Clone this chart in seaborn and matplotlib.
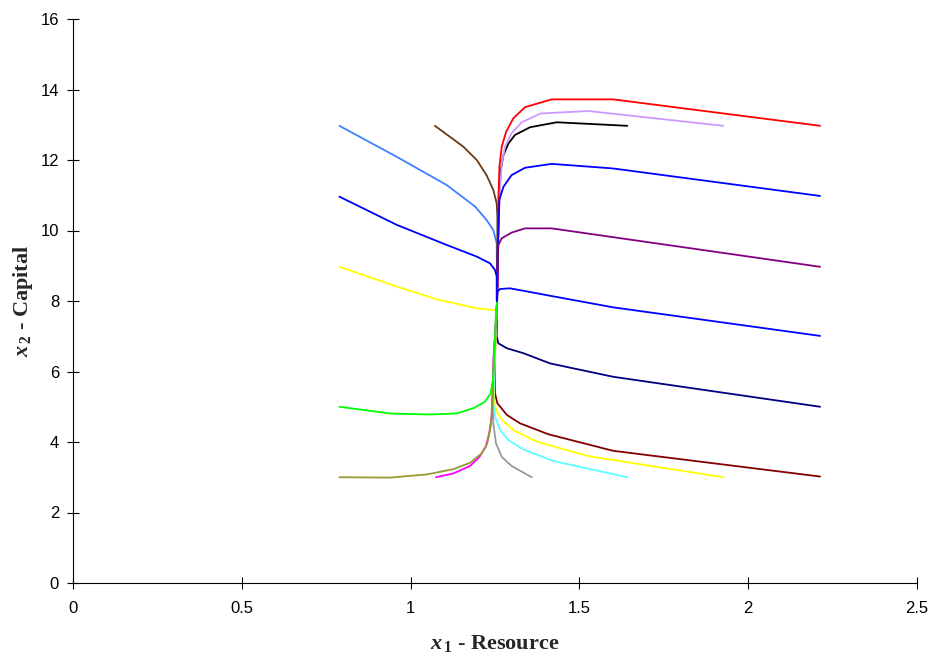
import matplotlib
matplotlib.use("Agg")
import matplotlib.pyplot as plt
import seaborn as sns
import pandas as pd

# Trajectories in the (resource, capital) plane; each runs from its initial
# point to the balanced path near x1 = 1.256 and along it to the steady state.
lightblue_x = [0.789, 0.959, 1.107, 1.191, 1.225, 1.245, 1.255, 1.256, 1.256]
lightblue_y = [12.97, 12.09, 11.29, 10.68, 10.30, 10.01, 9.64, 8.80, 7.95]

brown_x = [1.072, 1.156, 1.196, 1.225, 1.245, 1.255, 1.257, 1.257, 1.256]
brown_y = [12.97, 12.38, 12.00, 11.57, 11.15, 10.77, 10.39, 9.20, 7.95]

black_x = [1.642, 1.433, 1.354, 1.309, 1.290, 1.275, 1.267, 1.262, 1.258, 1.256]
black_y = [12.97, 13.07, 12.93, 12.71, 12.47, 12.14, 11.72, 10.80, 9.40, 7.95]

violet_x = [1.926, 1.526, 1.385, 1.329, 1.299, 1.280, 1.270, 1.263, 1.259, 1.256]
violet_y = [12.97, 13.39, 13.32, 13.07, 12.76, 12.38, 11.91, 10.90, 9.40, 7.95]

red_x = [2.213, 1.600, 1.418, 1.339, 1.304, 1.283, 1.270, 1.263, 1.260, 1.259, 1.2575, 1.256]
red_y = [12.97, 13.72, 13.72, 13.50, 13.18, 12.80, 12.38, 11.81, 10.87, 9.45, 8.31, 7.95]

blue_r11_x = [2.213, 1.600, 1.418, 1.339, 1.299, 1.275, 1.263, 1.259, 1.256]
blue_r11_y = [10.98, 11.76, 11.89, 11.78, 11.57, 11.24, 10.87, 9.60, 7.95]

purple_x = [2.213, 1.418, 1.339, 1.299, 1.270, 1.260, 1.257, 1.256]
purple_y = [8.97, 10.06, 10.06, 9.94, 9.78, 9.59, 8.90, 7.95]

blue_r7_x = [2.213, 1.600, 1.418, 1.334, 1.294, 1.265, 1.257, 1.256]
blue_r7_y = [7.01, 7.82, 8.14, 8.29, 8.36, 8.34, 8.26, 7.95]

blue_l11_x = [0.789, 0.959, 1.107, 1.196, 1.235, 1.250, 1.255, 1.255, 1.256]
blue_l11_y = [10.96, 10.16, 9.59, 9.26, 9.07, 8.88, 8.69, 8.03, 7.95]

yellow_l9_x = [0.789, 0.959, 1.077, 1.196, 1.252, 1.254, 1.256]
yellow_l9_y = [8.97, 8.41, 8.05, 7.79, 7.74, 7.85, 7.95]

navy_x = [2.213, 1.600, 1.413, 1.334, 1.285, 1.260, 1.255, 1.256]
navy_y = [5.00, 5.85, 6.23, 6.52, 6.66, 6.80, 6.99, 7.95]

maroon_x = [2.213, 1.600, 1.408, 1.324, 1.285, 1.257, 1.250, 1.250, 1.256]
maroon_y = [3.02, 3.75, 4.22, 4.53, 4.77, 5.10, 5.38, 6.50, 7.95]

yellow_r3_x = [1.926, 1.526, 1.374, 1.309, 1.275, 1.255, 1.247, 1.250, 1.256]
yellow_r3_y = [3.00, 3.60, 4.01, 4.31, 4.58, 4.86, 5.19, 6.50, 7.95]

cyan_x = [1.642, 1.423, 1.334, 1.289, 1.265, 1.250, 1.245, 1.249, 1.256]
cyan_y = [3.00, 3.46, 3.79, 4.06, 4.34, 4.72, 5.10, 6.50, 7.95]

gray_x = [1.359, 1.299, 1.270, 1.253, 1.245, 1.243, 1.246, 1.256]
gray_y = [3.00, 3.32, 3.58, 3.96, 4.53, 5.00, 6.47, 7.95]

magenta_x = [1.075, 1.127, 1.176, 1.204, 1.223, 1.233, 1.240, 1.246, 1.256]
magenta_y = [3.00, 3.11, 3.32, 3.58, 3.87, 4.25, 4.72, 6.40, 7.95]

olive_x = [0.789, 0.939, 1.048, 1.127, 1.176, 1.211, 1.227, 1.237, 1.242, 1.247, 1.256]
olive_y = [3.00, 2.99, 3.08, 3.23, 3.41, 3.68, 3.96, 4.43, 5.00, 6.40, 7.95]

green_x = [0.789, 0.939, 1.057, 1.137, 1.186, 1.220, 1.237, 1.244, 1.250, 1.253, 1.256]
green_y = [5.00, 4.81, 4.78, 4.81, 4.96, 5.14, 5.38, 5.76, 6.89, 7.74, 7.95]

series = [
    (lightblue_x, lightblue_y, "#4080FF"),
    (brown_x, brown_y, "#6B3A14"),
    (black_x, black_y, "#000000"),
    (violet_x, violet_y, "#CC99FF"),
    (red_x, red_y, "#FF0000"),
    (blue_r11_x, blue_r11_y, "#0000FF"),
    (purple_x, purple_y, "#800080"),
    (blue_r7_x, blue_r7_y, "#0000FF"),
    (blue_l11_x, blue_l11_y, "#0000FF"),
    (yellow_l9_x, yellow_l9_y, "#FFFF00"),
    (navy_x, navy_y, "#000080"),
    (maroon_x, maroon_y, "#800000"),
    (yellow_r3_x, yellow_r3_y, "#FFFF00"),
    (cyan_x, cyan_y, "#5CFFFF"),
    (gray_x, gray_y, "#999999"),
    (magenta_x, magenta_y, "#FF00FF"),
    (olive_x, olive_y, "#999933"),
    (green_x, green_y, "#00FF00"),
]

x_ticks = [0, 0.5, 1, 1.5, 2, 2.5]
x_tick_labels = ["0", "0.5", "1", "1.5", "2", "2.5"]
y_ticks = [0, 2, 4, 6, 8, 10, 12, 14, 16]

sns.set_theme(style="white")
plt.rcParams["font.family"] = ["Liberation Sans", "DejaVu Sans"]
plt.rcParams["mathtext.fontset"] = "custom"
plt.rcParams["mathtext.rm"] = "Liberation Serif:bold"
plt.rcParams["mathtext.it"] = "Liberation Serif:italic:bold"
plt.rcParams["mathtext.bf"] = "Liberation Serif:bold"

fig = plt.figure(figsize=(9.31, 6.52), dpi=100)
ax = fig.add_axes([73 / 931, 69 / 652, (917 - 73) / 931, (583 - 19) / 652])

for xs, ys, col in series:
    df = pd.DataFrame({"x1": xs, "x2": ys})
    sns.lineplot(data=df, x="x1", y="x2", sort=False, estimator=None,
                 color=col, linewidth=1.3, ax=ax)

ax.set_xlim(0, 2.5)
ax.set_ylim(0, 16)
ax.set_xticks(x_ticks)
ax.set_xticklabels(x_tick_labels)
ax.set_yticks(y_ticks)
ax.tick_params(axis="both", which="major", bottom=True, left=True,
               direction="inout", length=8, width=0.8, color="black",
               labelsize=12, labelcolor="black")
ax.tick_params(axis="x", pad=9)
ax.tick_params(axis="y", pad=6)
for side in ("top", "right"):
    ax.spines[side].set_visible(False)
for side in ("left", "bottom"):
    ax.spines[side].set_color("black")
    ax.spines[side].set_linewidth(0.8)

label_font = {"family": "Liberation Serif", "weight": "bold", "size": 16}
ax.set_xlabel(r"$x_{\,1}$ - Resource", fontdict=label_font, labelpad=12)
ax.set_ylabel(r"$x_{\,2}$ - Capital", fontdict=label_font, labelpad=4)

fig.savefig("out.png", dpi=100, facecolor="white")
